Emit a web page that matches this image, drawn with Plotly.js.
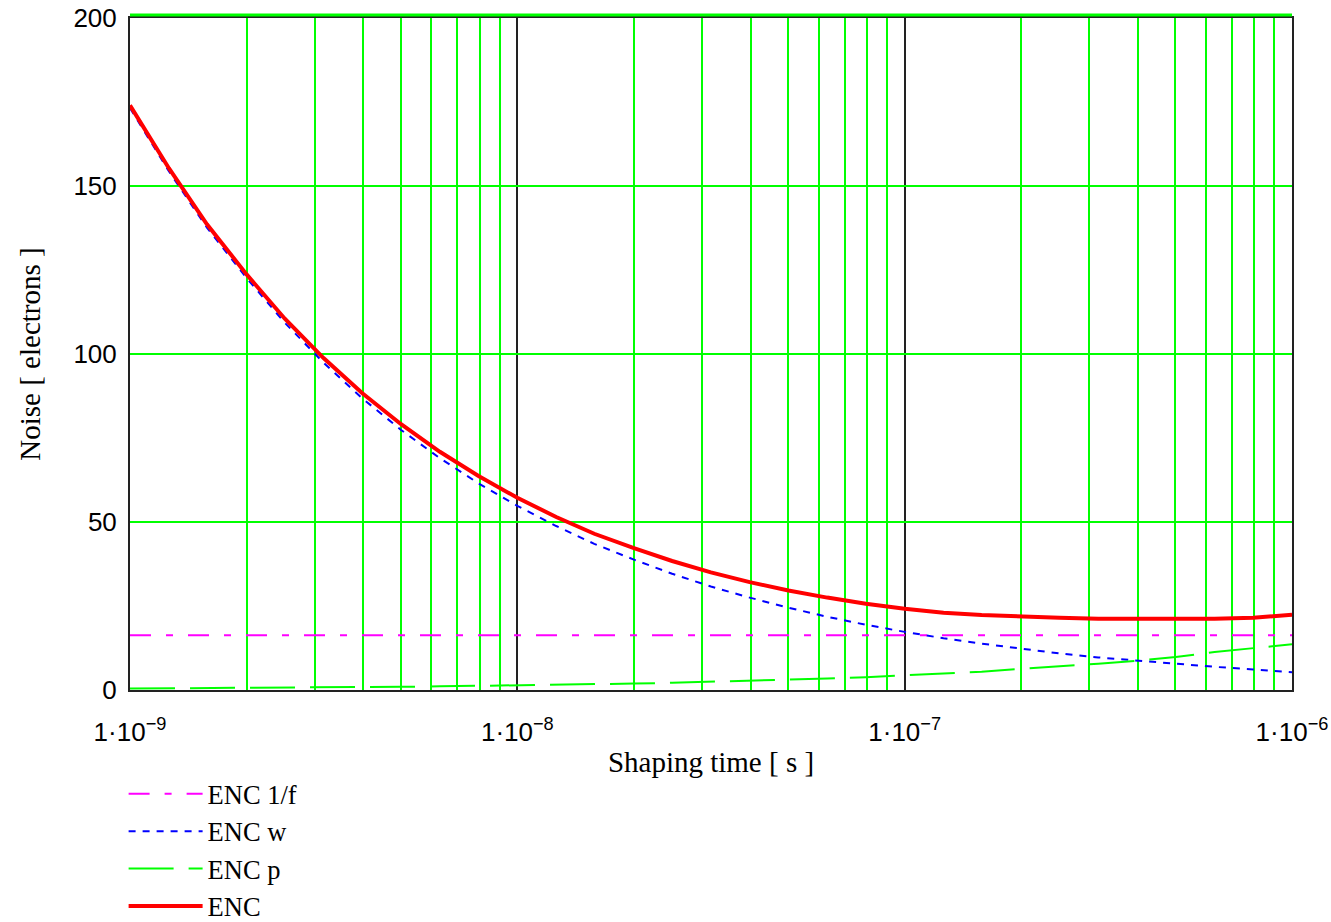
<!DOCTYPE html>
<html>
<head>
<meta charset="utf-8">
<script src="https://cdn.plot.ly/plotly-3.0.1.min.js"></script>
<style>html,body{margin:0;padding:0;background:#fff;}#chart{width:1331px;height:922px;}</style>
</head>
<body>
<div id="chart"></div>
<script>
// Shaping time [s]
const tau = [1e-9,1.26e-9,1.58e-9,2e-9,2.51e-9,3.16e-9,3.98e-9,5.01e-9,6.31e-9,7.94e-9,
             1e-8,1.26e-8,1.58e-8,2e-8,2.51e-8,3.16e-8,3.98e-8,5.01e-8,6.31e-8,7.94e-8,
             1e-7,1.26e-7,1.58e-7,2e-7,2.51e-7,3.16e-7,3.98e-7,5.01e-7,6.31e-7,7.94e-7,1e-6];
const enc1f = [16.3,16.3,16.3,16.3,16.3,16.3,16.3,16.3,16.3,16.3,
               16.3,16.3,16.3,16.3,16.3,16.3,16.3,16.3,16.3,16.3,
               16.3,16.3,16.3,16.3,16.3,16.3,16.3,16.3,16.3,16.3,16.3];
const encW = [173.2,154.4,137.6,122.6,109.3,97.4,86.8,77.4,69.0,61.5,
              54.8,48.8,43.5,38.8,34.6,30.8,27.5,24.5,21.8,19.4,
              17.3,15.4,13.8,12.3,10.9,9.7,8.7,7.7,6.9,6.1,5.3];
const encP = [0.43,0.48,0.54,0.61,0.68,0.76,0.86,0.96,1.08,1.21,
              1.36,1.53,1.71,1.92,2.15,2.42,2.71,3.04,3.41,3.83,
              4.30,4.82,5.41,6.3,7.0,7.8,8.7,9.8,11.3,12.5,13.6];
const enc = [174.0,155.3,138.6,123.7,110.5,98.8,88.3,79.1,70.9,63.7,
             57.2,51.5,46.5,42.2,38.4,35.0,32.1,29.6,27.5,25.7,
             24.2,23.0,22.3,21.8,21.5,21.2,21.1,21.1,21.2,21.5,22.4];
const xTickVals = [1e-9,1e-8,1e-7,1e-6];
const xTickText = ['1·10<sup>−9</sup>','1·10<sup>−8</sup>','1·10<sup>−7</sup>','1·10<sup>−6</sup>'];
const yTickVals = [0,50,100,150,200];
const names = ['ENC 1/f','ENC w','ENC p','ENC'];

const serif = '"Liberation Serif", "Times New Roman", serif';
const sans = '"Liberation Sans", Arial, sans-serif';

const traces = [
  {x: tau, y: enc1f, name: names[0], mode: 'lines', line: {color: '#ff00ff', width: 2, dash: '21px,15px,7px,15px'}},
  {x: tau, y: encW, name: names[1], mode: 'lines', line: {color: '#0000ff', width: 2, dash: '7px,7px'}},
  {x: tau, y: encP, name: names[2], mode: 'lines', line: {color: '#00ff00', width: 2, dash: '45px,15px'}},
  {x: tau, y: enc, name: names[3], mode: 'lines', line: {color: '#ff0000', width: 4}}
];

const layout = {
  width: 1331, height: 922,
  margin: {l: 130, r: 39, t: 18, b: 232, autoexpand: false},
  paper_bgcolor: '#ffffff', plot_bgcolor: '#ffffff',
  showlegend: true,
  legend: {
    x: -0.0055, xanchor: 'left', y: -0.119, yanchor: 'top',
    orientation: 'v', traceorder: 'normal',
    font: {family: serif, size: 26.5, color: '#000'},
    bgcolor: 'rgba(0,0,0,0)', itemwidth: 74, tracegroupgap: 0
  },
  xaxis: {
    type: 'log', range: [-9, -5.99999],
    tickmode: 'array', tickvals: xTickVals, ticktext: xTickText,
    ticks: '', ticklabelstandoff: 18,
    tickfont: {family: sans, size: 26, color: '#000'},
    showgrid: true, gridcolor: '#222222', gridwidth: 2,
    minor: {dtick: 'D1', showgrid: true, gridcolor: '#00ff00', gridwidth: 2, ticks: ''},
    showline: true, linecolor: '#222222', linewidth: 2, mirror: true,
    zeroline: false,
    title: {text: 'Shaping time [ s ]', font: {family: serif, size: 29, color: '#000'}, standoff: 5},
    automargin: false
  },
  yaxis: {
    range: [0, 200],
    tickmode: 'array', tickvals: yTickVals,
    ticks: '', ticklabelstandoff: 6,
    tickfont: {family: sans, size: 26, color: '#000'},
    showgrid: true, gridcolor: '#00ff00', gridwidth: 2,
    showline: true, linecolor: '#222222', linewidth: 2, mirror: true,
    zeroline: false,
    title: {text: 'Noise [ electrons ]', font: {family: serif, size: 29, color: '#000'}, standoff: 24},
    automargin: false
  },
  shapes: [
    {type: 'line', xref: 'paper', yref: 'paper', x0: 0, x1: 1, y0: 1.0045, y1: 1.0045,
     line: {color: '#00ff00', width: 3}}
  ]
};

Plotly.newPlot('chart', traces, layout, {staticPlot: true, displayModeBar: false});
</script>
</body>
</html>
